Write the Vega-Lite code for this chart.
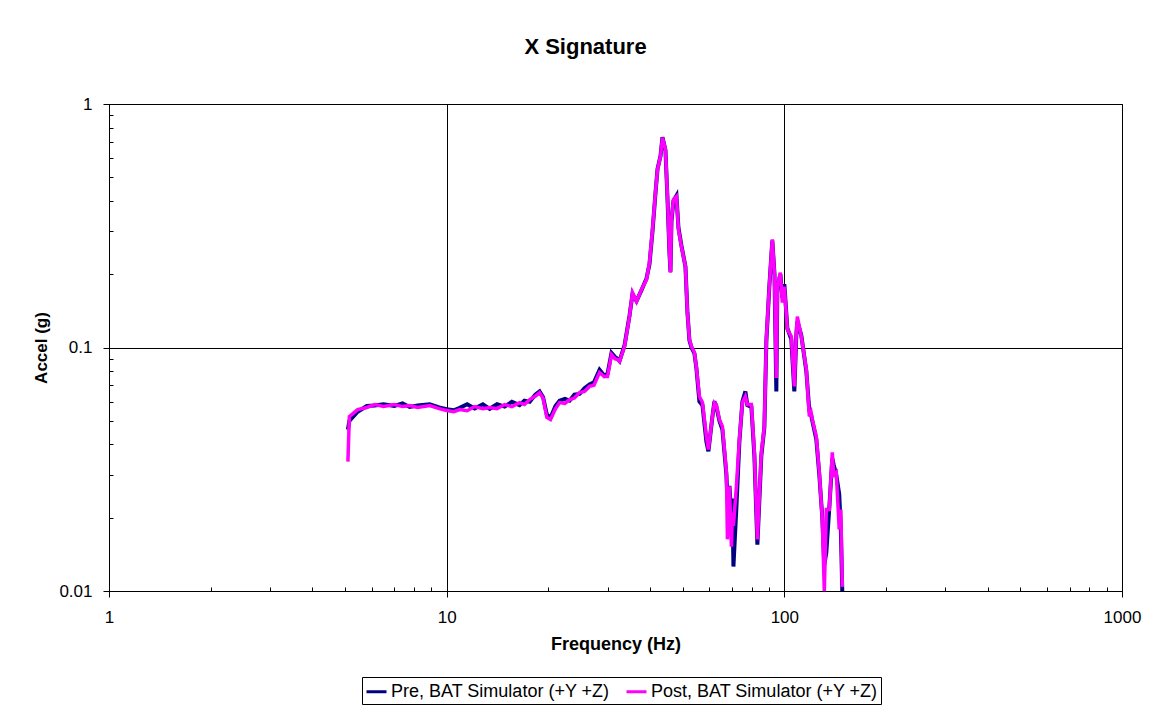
{
  "$schema": "https://vega.github.io/schema/vega-lite/v6.json",
  "width": 1013,
  "height": 487,
  "autosize": {"type": "none"},
  "padding": {"left": 109, "top": 104, "right": 32, "bottom": 117},
  "background": "white",
  "title": {"text": "X Signature", "font": "Liberation Sans", "fontSize": 22, "fontWeight": "bold", "color": "black", "anchor": "middle", "dx": -30, "offset": 36},
  "config": {
    "view": {"stroke": "black", "strokeWidth": 1},
    "axis": {"labelFont": "Liberation Sans", "labelFontSize": 17, "labelColor": "black", "titleFont": "Liberation Sans", "titleFontSize": 17, "titleFontWeight": "bold", "titleColor": "black", "domainColor": "black", "tickColor": "black", "gridColor": "black", "gridWidth": 1, "labelOverlap": false, "labelBound": false, "labelFlush": false}
  },
  "datasets": {
    "pre": [
      {"f":5.1,"a":0.046},{"f":5.15,"a":0.05},{"f":5.45,"a":0.0545},{"f":5.8,"a":0.0575},{"f":6.12,"a":0.0578},{"f":6.5,"a":0.0585},{"f":7.0,"a":0.0575},{"f":7.4,"a":0.059},{"f":7.77,"a":0.057},{"f":8.2,"a":0.0578},{"f":8.91,"a":0.0585},{"f":9.5,"a":0.0568},{"f":10.0,"a":0.0558},{"f":10.5,"a":0.0552},{"f":10.93,"a":0.0565},{"f":11.5,"a":0.0585},{"f":12.1,"a":0.0562},{"f":12.8,"a":0.0585},{"f":13.41,"a":0.056},{"f":14.1,"a":0.0585},{"f":14.85,"a":0.0572},{"f":15.6,"a":0.0598},{"f":16.44,"a":0.058},{"f":17.0,"a":0.0605},{"f":17.61,"a":0.0598},{"f":18.3,"a":0.064},{"f":18.84,"a":0.066},{"f":19.3,"a":0.0625},{"f":19.8,"a":0.053},{"f":20.3,"a":0.0515},{"f":21.0,"a":0.0575},{"f":21.6,"a":0.0605},{"f":22.4,"a":0.0615},{"f":23.12,"a":0.0605},{"f":23.9,"a":0.064},{"f":24.75,"a":0.0645},{"f":25.6,"a":0.068},{"f":26.49,"a":0.0705},{"f":27.3,"a":0.072},{"f":28.36,"a":0.081},{"f":29.3,"a":0.0765},{"f":29.95,"a":0.078},{"f":30.77,"a":0.095},{"f":31.5,"a":0.0915},{"f":32.06,"a":0.09},{"f":32.5,"a":0.088},{"f":33.63,"a":0.102},{"f":34.79,"a":0.135},{"f":35.51,"a":0.166},{"f":36.49,"a":0.155},{"f":37.76,"a":0.172},{"f":39.07,"a":0.192},{"f":39.87,"a":0.22},{"f":40.7,"a":0.3},{"f":41.53,"a":0.43},{"f":42.11,"a":0.54},{"f":42.97,"a":0.61},{"f":43.56,"a":0.73},{"f":44.46,"a":0.645},{"f":45.07,"a":0.41},{"f":45.69,"a":0.245},{"f":46.0,"a":0.205},{"f":46.32,"a":0.33},{"f":46.95,"a":0.4},{"f":47.92,"a":0.42},{"f":48.58,"a":0.31},{"f":49.58,"a":0.262},{"f":50.95,"a":0.215},{"f":51.64,"a":0.14},{"f":52.35,"a":0.107},{"f":53.08,"a":0.1},{"f":54.17,"a":0.0945},{"f":54.91,"a":0.082},{"f":56.04,"a":0.06},{"f":57.21,"a":0.058},{"f":58.78,"a":0.041},{"f":59.59,"a":0.0375},{"f":61.23,"a":0.052},{"f":62.07,"a":0.06},{"f":62.92,"a":0.057},{"f":64.22,"a":0.05},{"f":65.55,"a":0.046},{"f":67.37,"a":0.03},{"f":67.83,"a":0.024},{"f":68.77,"a":0.027},{"f":69.71,"a":0.02},{"f":70.19,"a":0.024},{"f":70.67,"a":0.0126},{"f":72.11,"a":0.022},{"f":73.6,"a":0.041},{"f":75.12,"a":0.06},{"f":76.67,"a":0.066},{"f":77.72,"a":0.058},{"f":79.88,"a":0.057},{"f":81.52,"a":0.036},{"f":83.21,"a":0.0155},{"f":85.5,"a":0.036},{"f":87.27,"a":0.047},{"f":88.46,"a":0.106},{"f":90.27,"a":0.178},{"f":92.14,"a":0.275},{"f":93.5,"a":0.2},{"f":94.69,"a":0.066},{"f":95.35,"a":0.175},{"f":97.32,"a":0.2},{"f":98.65,"a":0.16},{"f":100,"a":0.182},{"f":102.07,"a":0.12},{"f":104.88,"a":0.108},{"f":107.05,"a":0.066},{"f":108.52,"a":0.112},{"f":109.27,"a":0.128},{"f":112.28,"a":0.112},{"f":116.18,"a":0.08},{"f":118.58,"a":0.055},{"f":120,"a":0.053},{"f":121.02,"a":0.05},{"f":124.37,"a":0.042},{"f":126.94,"a":0.03},{"f":129.55,"a":0.02},{"f":131.34,"a":0.0128},{"f":133.15,"a":0.0144},{"f":135.9,"a":0.022},{"f":138.68,"a":0.035},{"f":140,"a":0.033},{"f":142.5,"a":0.03},{"f":145.4,"a":0.025},{"f":147,"a":0.018},{"f":148.5,"a":0.0098}
    ],
    "post": [
      {"f":5.1,"a":0.034},{"f":5.15,"a":0.052},{"f":5.45,"a":0.0556},{"f":5.8,"a":0.0567},{"f":6.12,"a":0.0583},{"f":6.5,"a":0.0572},{"f":7.0,"a":0.0583},{"f":7.4,"a":0.0572},{"f":7.77,"a":0.0578},{"f":8.2,"a":0.0567},{"f":8.91,"a":0.0578},{"f":9.5,"a":0.0561},{"f":10.0,"a":0.0551},{"f":10.5,"a":0.0545},{"f":10.93,"a":0.0556},{"f":11.5,"a":0.055},{"f":12.1,"a":0.0572},{"f":12.8,"a":0.0561},{"f":13.41,"a":0.0567},{"f":14.1,"a":0.0561},{"f":14.85,"a":0.0583},{"f":15.6,"a":0.0572},{"f":16.44,"a":0.0594},{"f":17.0,"a":0.0583},{"f":17.61,"a":0.0611},{"f":18.3,"a":0.063},{"f":18.84,"a":0.0653},{"f":19.3,"a":0.062},{"f":19.8,"a":0.0516},{"f":20.3,"a":0.0506},{"f":21.0,"a":0.056},{"f":21.6,"a":0.0594},{"f":22.4,"a":0.059},{"f":23.12,"a":0.0611},{"f":23.9,"a":0.062},{"f":24.75,"a":0.0653},{"f":25.6,"a":0.066},{"f":26.49,"a":0.0692},{"f":27.3,"a":0.07},{"f":28.36,"a":0.0789},{"f":29.3,"a":0.076},{"f":29.95,"a":0.076},{"f":30.77,"a":0.0936},{"f":31.5,"a":0.09},{"f":32.06,"a":0.0893},{"f":32.5,"a":0.0876},{"f":33.63,"a":0.101},{"f":34.79,"a":0.134},{"f":35.51,"a":0.168},{"f":36.49,"a":0.1545},{"f":37.76,"a":0.173},{"f":39.07,"a":0.19},{"f":39.87,"a":0.2234},{"f":40.7,"a":0.305},{"f":41.53,"a":0.433},{"f":42.11,"a":0.538},{"f":42.97,"a":0.609},{"f":43.56,"a":0.728},{"f":44.46,"a":0.65},{"f":45.07,"a":0.417},{"f":45.69,"a":0.2455},{"f":46.0,"a":0.203},{"f":46.32,"a":0.336},{"f":46.95,"a":0.405},{"f":47.92,"a":0.417},{"f":48.58,"a":0.305},{"f":49.58,"a":0.26},{"f":50.95,"a":0.215},{"f":51.64,"a":0.139},{"f":52.35,"a":0.108},{"f":53.08,"a":0.101},{"f":54.17,"a":0.0954},{"f":54.91,"a":0.0828},{"f":56.04,"a":0.0629},{"f":57.21,"a":0.0594},{"f":58.78,"a":0.0431},{"f":59.59,"a":0.0381},{"f":61.23,"a":0.0521},{"f":62.07,"a":0.0594},{"f":62.92,"a":0.0583},{"f":64.22,"a":0.0506},{"f":65.55,"a":0.0474},{"f":67.37,"a":0.0307},{"f":67.83,"a":0.0163},{"f":68.77,"a":0.0269},{"f":69.71,"a":0.0152},{"f":70.19,"a":0.021},{"f":70.67,"a":0.0185},{"f":72.11,"a":0.0269},{"f":73.6,"a":0.0419},{"f":75.12,"a":0.0594},{"f":76.67,"a":0.063},{"f":77.72,"a":0.0583},{"f":79.88,"a":0.0583},{"f":81.52,"a":0.0371},{"f":83.21,"a":0.0163},{"f":85.5,"a":0.0371},{"f":87.27,"a":0.0474},{"f":88.46,"a":0.108},{"f":90.27,"a":0.178},{"f":92.14,"a":0.278},{"f":93.5,"a":0.2},{"f":94.69,"a":0.075},{"f":95.35,"a":0.178},{"f":97.32,"a":0.203},{"f":98.65,"a":0.153},{"f":100,"a":0.178},{"f":102.07,"a":0.1186},{"f":104.88,"a":0.111},{"f":107.05,"a":0.0692},{"f":108.52,"a":0.1152},{"f":109.27,"a":0.134},{"f":112.28,"a":0.111},{"f":116.18,"a":0.0812},{"f":118.58,"a":0.0521},{"f":120,"a":0.0541},{"f":121.02,"a":0.0506},{"f":124.37,"a":0.0431},{"f":126.94,"a":0.0307},{"f":129.55,"a":0.0197},{"f":131.34,"a":0.0099},{"f":133.15,"a":0.0216},{"f":135.9,"a":0.0216},{"f":138.68,"a":0.0371},{"f":140,"a":0.03},{"f":142.5,"a":0.0307},{"f":145.4,"a":0.0179},{"f":147,"a":0.0216},{"f":148.5,"a":0.0104}
    ]
  },
  "encoding": {
    "x": {
      "field": "f", "type": "quantitative",
      "scale": {"type": "log", "domain": [1, 1000], "nice": false},
      "axis": {
        "title": "Frequency (Hz)",
        "titleFontSize": 18,
        "values": [1,2,3,4,5,6,7,8,9,10,20,30,40,50,60,70,80,90,100,200,300,400,500,600,700,800,900,1000],
        "format": "d",
        "labelExpr": "indexof([1,10,100,1000], datum.value) >= 0 ? datum.label : ''",
        "grid": true,
        "gridOpacity": {"condition": {"test": "indexof([1,10,100,1000], datum.value) >= 0", "value": 1}, "value": 0},
        "tickSize": {"condition": {"test": "indexof([1,10,100,1000], datum.value) >= 0", "value": 6}, "value": -4},
        "labelPadding": 12,
        "titlePadding": 10
      }
    },
    "y": {
      "field": "a", "type": "quantitative",
      "scale": {"type": "log", "domain": [0.01, 1], "nice": false},
      "axis": {
        "title": "Accel (g)",
        "values": [0.01,0.02,0.03,0.04,0.05,0.06,0.07,0.08,0.09,0.1,0.2,0.3,0.4,0.5,0.6,0.7,0.8,0.9,1],
        "format": "~g",
        "labelExpr": "indexof([0.01,0.1,1], datum.value) >= 0 ? datum.label : ''",
        "grid": true,
        "gridOpacity": {"condition": {"test": "indexof([0.01,0.1,1], datum.value) >= 0", "value": 1}, "value": 0},
        "tickSize": {"condition": {"test": "indexof([0.01,0.1,1], datum.value) >= 0", "value": 6}, "value": -4},
        "labelPadding": 11,
        "titlePadding": 8
      }
    },
    "color": {
      "field": "s", "type": "nominal",
      "scale": {"domain": ["Pre, BAT Simulator (+Y +Z)", "Post, BAT Simulator (+Y +Z)"], "range": ["#000080", "#FF00FF"]},
      "legend": {
        "title": null, "orient": "none", "direction": "horizontal", "legendX": 253, "legendY": 573,
        "strokeColor": "black", "padding": 3, "fillColor": "white",
        "labelFont": "Liberation Sans", "labelFontSize": 18, "labelColor": "black", "labelOffset": 3,
        "symbolType": "stroke", "symbolSize": 400, "symbolStrokeWidth": 3, "columnPadding": 10, "labelLimit": 400
      }
    }
  },
  "layer": [
    {
      "data": {"name": "pre"},
      "transform": [{"calculate": "'Pre, BAT Simulator (+Y +Z)'", "as": "s"}],
      "mark": {"type": "line", "strokeWidth": 4, "clip": true}
    },
    {
      "data": {"name": "post"},
      "transform": [{"calculate": "'Post, BAT Simulator (+Y +Z)'", "as": "s"}],
      "mark": {"type": "line", "strokeWidth": 3.5, "clip": true}
    }
  ]
}
